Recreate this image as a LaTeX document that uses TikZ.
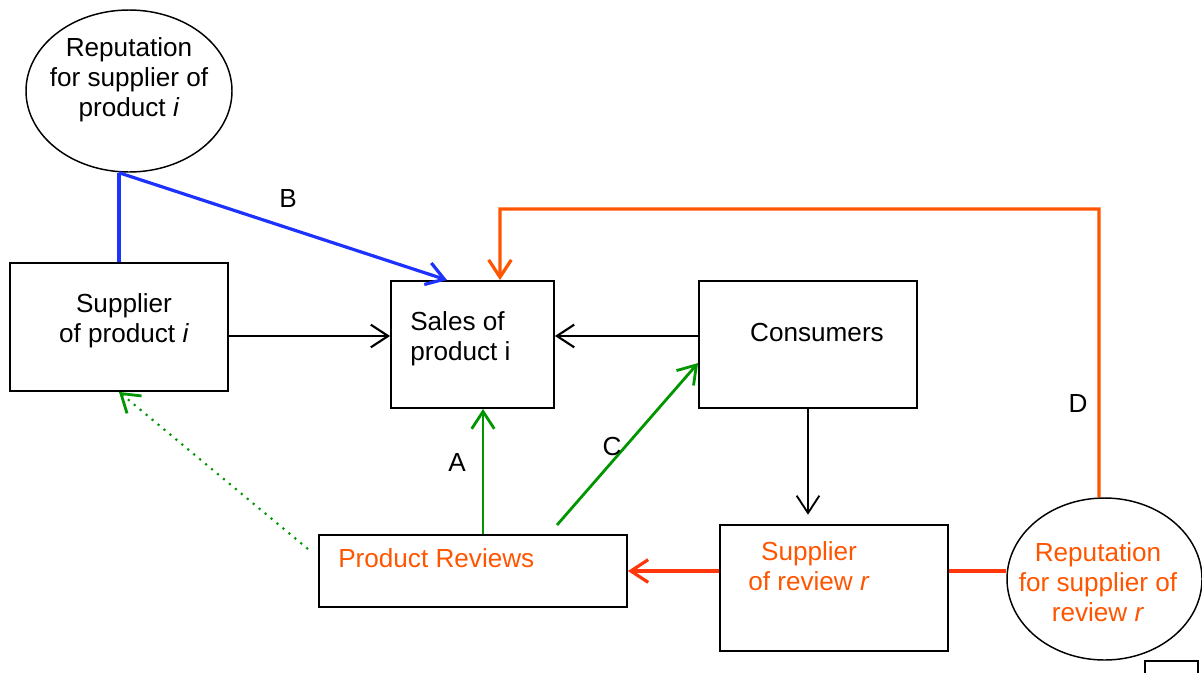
\documentclass[tikz,border=0pt]{standalone}
\usepackage{fontspec}
\setmainfont{Liberation Sans}
\usetikzlibrary{arrows.meta,shapes.geometric}

\definecolor{repblue}{RGB}{30,50,255}
\definecolor{revorange}{RGB}{255,85,0}
\definecolor{revred}{RGB}{255,55,10}
\definecolor{revgreen}{RGB}{0,150,0}

\begin{document}
\begin{tikzpicture}[x=0.75pt,y=0.75pt,yscale=-1,xscale=1,
  box/.style={draw,line width=1.4pt,inner sep=0pt},
  oval/.style={draw,ellipse,line width=1.1pt,inner sep=0pt},
  lbl/.style={inner sep=0.75pt,font=\fontsize{19.6}{22.5}\selectfont},
  tip/.style={-{Straight Barb[length=13pt,width=17pt]}},
  blueline/.style={draw=repblue,line width=2.4pt},
  orangeline/.style={draw=revorange,line width=2.4pt},
  greenline/.style={draw=revgreen,line width=2.1pt}
]
  \useasboundingbox (0,0) rectangle (1202,672);

  %Shapes: boxes and ovals
  \node [oval,minimum width=154.5pt,minimum height=121.5pt] (repi) at (129,91) {};
  \node [box,minimum width=163.5pt,minimum height=96pt] (supplier) at (119,327) {};
  \node [box,minimum width=122.25pt,minimum height=95.25pt] (sales) at (472.5,344.5) {};
  \node [box,minimum width=163.5pt,minimum height=95.25pt] (consumers) at (808,344.5) {};
  \node [box,minimum width=171pt,minimum height=94.5pt] (supprev) at (834,588) {};
  \node [box,minimum width=231pt,minimum height=54pt] (reviews) at (473,571) {};
  \node [oval,minimum width=146.25pt,minimum height=121.5pt] (repr) at (1104.5,579) {};
  %Shape: small box at the bottom edge
  \draw [line width=1.4pt] (1145,661) rectangle (1198,680);

  %Ends of connectors
  \coordinate (s1) at ([yshift=6.75pt]supplier.east);
  \coordinate (c1) at ([yshift=-6.4pt]consumers.west);
  \coordinate (bstart) at (repi.south -| supplier.north);
  \coordinate (btip) at ([xshift=-19.1pt]sales.north);
  \coordinate (dbase) at ([xshift=-4.1pt]repr.north);
  \coordinate (dtip) at ([xshift=20.6pt]sales.north);
  \coordinate (dtop) at (500,209);
  \coordinate (atail) at ([xshift=7.5pt]reviews.north);
  \coordinate (ctail) at (557,525);
  \coordinate (ctip) at ([yshift=13.9pt]consumers.west);
  \coordinate (gtail) at (308,549);

  %Black connectors
  \draw [tip,line width=1.6pt] (s1) -- (s1 -| sales.west);
  \draw [tip,line width=1.6pt] (c1) -- (c1 -| sales.east);
  \draw [tip,line width=1.4pt,shorten >=7pt] (consumers.south) -- (consumers.south |- supprev.north);

  %Blue connectors
  \draw [blueline] (bstart) -- (supplier.north);
  \draw [blueline,tip] (bstart) -- (btip);

  %Orange and red connectors
  \draw [orangeline,tip] (dbase) |- (dtop) -- (dtip);
  \draw [draw=revred,line width=2.4pt,tip] (reviews.east -| supprev.west) -- (reviews.east);
  \draw [draw=revred,line width=2.4pt] (supprev.east |- reviews.east) -- (repr.west |- reviews.east);

  %Green connectors
  \draw [greenline,tip] (atail) -- (atail |- sales.south);
  \draw [greenline,tip] (ctail) -- (ctip);
  \draw [greenline,line width=1.6pt,dash pattern={on 1.6pt off 4.2pt},-{Straight Barb[length=13pt,width=17pt,line width=2.1pt]}] (gtail) -- (supplier.south);

  % Text Node
  \draw (129,80) node [lbl,align=center] {Reputation\\for supplier of\\product \textit{i}};
  % Text Node
  \draw (124,321) node [lbl,align=center] {Supplier\\of product \textit{i}};
  % Text Node
  \draw (409,339) node [lbl,anchor=west,align=left] {Sales of\\product i};
  % Text Node
  \draw (817,332) node [lbl] {Consumers};
  % Text Node
  \draw (809,566) node [lbl,align=center,text=revorange] {Supplier\\of review \textit{r}};
  % Text Node
  \draw (337,558) node [lbl,anchor=west,text=revorange] {Product Reviews};
  % Text Node
  \draw (1098,582) node [lbl,align=center,text=revorange] {Reputation\\for supplier of\\review \textit{r}};
  % Text Node
  \draw (288,199) node [lbl] {B};
  % Text Node
  \draw (457,462) node [lbl] {A};
  % Text Node
  \draw (612,446) node [lbl] {C};
  % Text Node
  \draw (1078,403) node [lbl] {D};

\end{tikzpicture}
\end{document}
